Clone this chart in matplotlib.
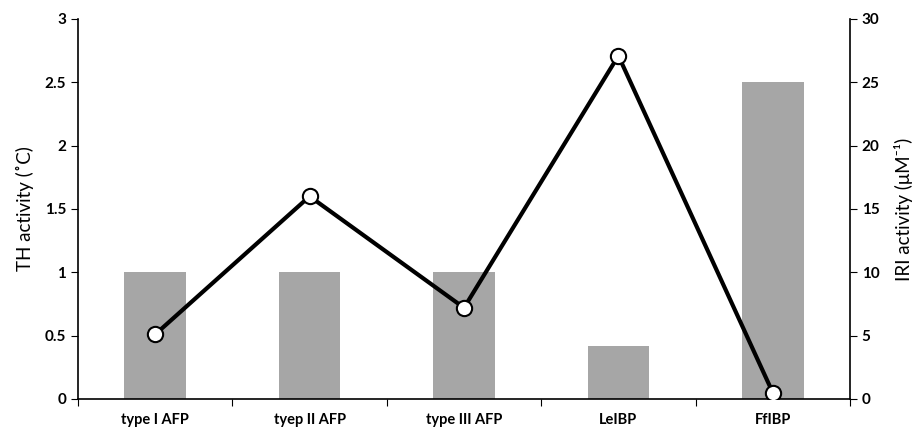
import matplotlib
matplotlib.use("Agg")
import matplotlib.pyplot as plt
import numpy as np

# data
categories = ["type I AFP", "tyep II AFP", "type III AFP", "LeIBP", "FfIBP"]
th_activity = [1.0, 1.0, 1.0, 0.42, 2.5]        # left axis, bars
iri_activity = [5.1, 16.0, 7.2, 27.1, 0.5]      # right axis, line

plt.rcParams["font.family"] = ["Lato", "DejaVu Sans"]

fig = plt.figure(figsize=(9.15, 4.28), dpi=100)
ax = fig.add_axes([78 / 915, 1 - 399 / 428, (850 - 78) / 915, (399 - 19) / 428])
x = np.arange(len(categories))

ax.bar(x, th_activity, width=0.4, color="#a6a6a6", zorder=1)
ax.set_xlim(-0.5, len(categories) - 0.5)
ax.set_ylim(0, 3)
ax.set_yticks([0, 0.5, 1, 1.5, 2, 2.5, 3])
ax.set_yticklabels(["0", "0.5", "1", "1.5", "2", "2.5", "3"])
ax.set_ylabel("TH activity (˚C)", fontsize=13.5, labelpad=8)

# category ticks sit between the groups, labels centred under the bars
ax.set_xticks(np.arange(len(categories) + 1) - 0.5)
ax.set_xticklabels([])
ax.set_xticks(x, minor=True)
ax.set_xticklabels(categories, minor=True, fontsize=10.5, fontweight="bold")
ax.tick_params(axis="x", which="minor", length=0, pad=10)
ax.tick_params(axis="x", which="major", length=5, direction="out")
ax.tick_params(axis="y", length=5, labelsize=11)
for lbl in ax.get_yticklabels():
    lbl.set_fontweight("bold")

ax2 = ax.twinx()
ax2.plot(x, iri_activity, color="black", lw=3, marker="o", ms=11,
         mfc="white", mec="black", mew=1.5, zorder=3)
ax2.set_ylim(0, 30)
ax2.set_yticks([0, 5, 10, 15, 20, 25, 30])
ax2.tick_params(axis="y", length=5, labelsize=11)
for lbl in ax2.get_yticklabels():
    lbl.set_fontweight("bold")
ax2.set_ylabel("IRI activity (μM⁻¹)", fontsize=13.5, labelpad=10)

for a in (ax, ax2):
    a.spines["top"].set_visible(False)
    for s in ("left", "right", "bottom"):
        a.spines[s].set_linewidth(1.2)
ax.spines["right"].set_visible(False)
ax2.spines["left"].set_visible(False)
ax2.spines["bottom"].set_visible(False)

fig.savefig("out.png", dpi=100)
plt.close(fig)
